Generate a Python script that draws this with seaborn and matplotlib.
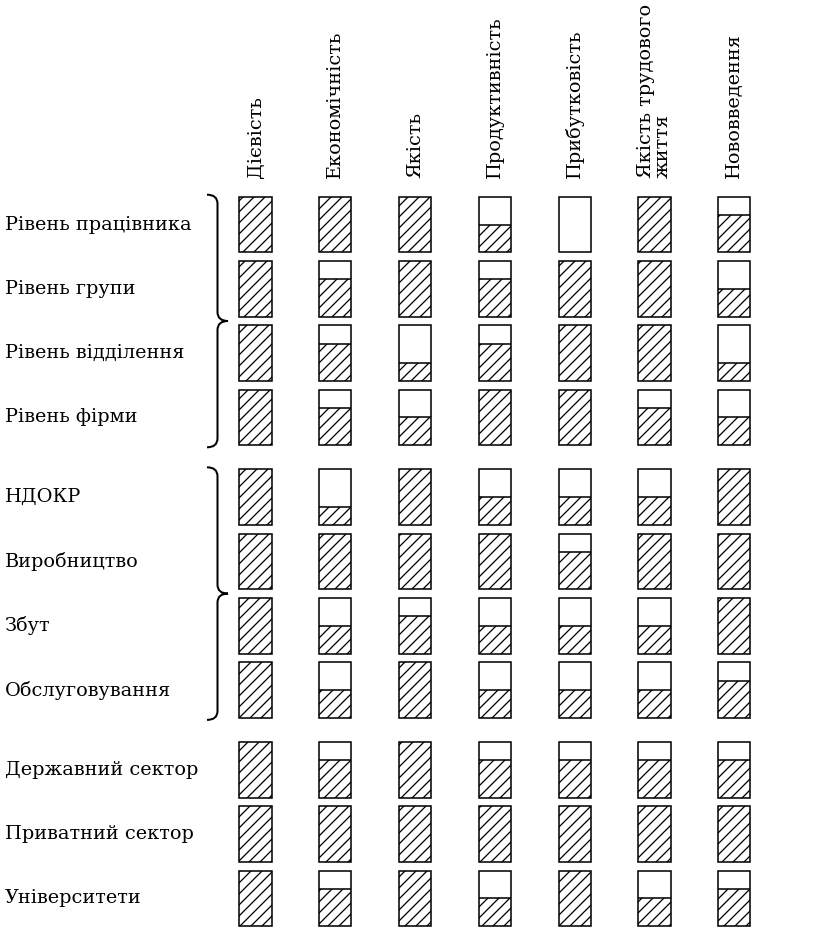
import pandas as pd
import seaborn as sns
import matplotlib.pyplot as plt
from matplotlib.path import Path
from matplotlib.patches import PathPatch

row_labels = ["Рівень працівника", "Рівень групи", "Рівень відділення", "Рівень фірми",
              "НДОКР", "Виробництво", "Збут", "Обслуговування",
              "Державний сектор", "Приватний сектор", "Університети"]
row_groups = [0, 0, 0, 0, 1, 1, 1, 1, 2, 2, 2]
col_labels = ["Дієвість", "Економічність", "Якість", "Продуктивність",
              "Прибутковість", "Якість трудового\nжиття", "Нововведення"]

# filled share of each box, top row first
dievist = [1, 1, 1, 1, 1, 1, 1, 1, 1, 1, 1]
ekonomichnist = [1, .67, .67, .67, .33, 1, .5, .5, .67, 1, .67]
yakist = [1, 1, .33, .5, 1, 1, .67, 1, 1, 1, 1]
produktyvnist = [.5, .67, .67, 1, .5, 1, .5, .5, .67, 1, .5]
prybutkovist = [0, 1, 1, 1, .5, .67, .5, .5, .67, 1, 1]
yakist_zhyttia = [1, 1, 1, .67, .5, 1, .5, .5, .67, 1, .5]
novovvedennia = [.67, .5, .33, .5, 1, 1, 1, .67, .67, 1, .67]
columns = [dievist, ekonomichnist, yakist, produktyvnist,
           prybutkovist, yakist_zhyttia, novovvedennia]

W, H, DPI = 825, 928, 132
sns.set_style("white")
plt.rcParams["font.family"] = ["DejaVu Serif"]
plt.rcParams["text.color"] = "black"
plt.rcParams["hatch.linewidth"] = 0.7
fig = plt.figure(figsize=(W / DPI, H / DPI), dpi=DPI)

col0, col_step = 255.5, 79.8
row0, row_step, group_gap, box_h = 196.7, 64.3, 15.4, 55.7
left = col0 - col_step / 2
axes_w = col_step * len(col_labels)
lw = 0.85
fs = 10.5

tops = []
for i, label in enumerate(row_labels):
    top = row0 + row_step * i + group_gap * row_groups[i]
    tops.append(top)
    ax = fig.add_axes([left / W, 1 - (top + box_h) / H, axes_w / W, box_h / H])
    df = pd.DataFrame({"col": col_labels, "value": [c[i] for c in columns]})
    sns.barplot(data=df, x="col", y="value", ax=ax, color="white", saturation=1,
                edgecolor="black", hatch="////", linewidth=0, width=0.406, errorbar=None)
    sns.barplot(data=df.assign(value=1), x="col", y="value", ax=ax, fill=False,
                edgecolor="black", linewidth=lw, width=0.406, errorbar=None)
    # dividing line on top of the hatched part
    for p in ax.patches[:len(col_labels)]:
        if 0 < p.get_height() < 1:
            ax.plot([p.get_x(), p.get_x() + p.get_width()], [p.get_height()] * 2,
                    color="black", lw=lw, solid_capstyle="butt")
    for p in ax.patches:
        p.set_clip_on(False)
    ax.set_xlim(-0.5, len(col_labels) - 0.5)
    ax.set_ylim(0, 1)
    ax.axis("off")
    fig.text(5 / W, 1 - (top + box_h / 2) / H, label, ha="left", va="center", fontsize=fs)
    if i == 0:
        for j, c in enumerate(col_labels):
            ax.text(j, 1 + 18.7 / box_h, c, rotation=90, ha="center", va="bottom",
                    fontsize=fs, multialignment="left", linespacing=0.95)


def brace(y_top, y_bot, x0=207, w=21):
    mid = (y_top + y_bot) / 2
    r = 9
    xm = x0 + w / 2
    pts = [(x0, y_top), (xm, y_top), (xm, y_top + r), (xm, y_top + r + 2),
           (xm, mid - r), (xm, mid), (x0 + w, mid), (xm, mid), (xm, mid + r),
           (xm, y_bot - r), (xm, y_bot), (x0, y_bot)]
    codes = [Path.MOVETO, Path.CURVE3, Path.CURVE3, Path.LINETO,
             Path.LINETO, Path.CURVE3, Path.CURVE3, Path.CURVE3, Path.CURVE3,
             Path.LINETO, Path.CURVE3, Path.CURVE3]
    pts = [(x / W, 1 - y / H) for x, y in pts]
    fig.add_artist(PathPatch(Path(pts, codes), transform=fig.transFigure,
                             fill=False, lw=1.1, color="black"))


brace(tops[0] - 2, tops[3] + box_h + 2)
brace(tops[4] - 2, tops[7] + box_h + 2)

fig.savefig("out.png", dpi=DPI)
